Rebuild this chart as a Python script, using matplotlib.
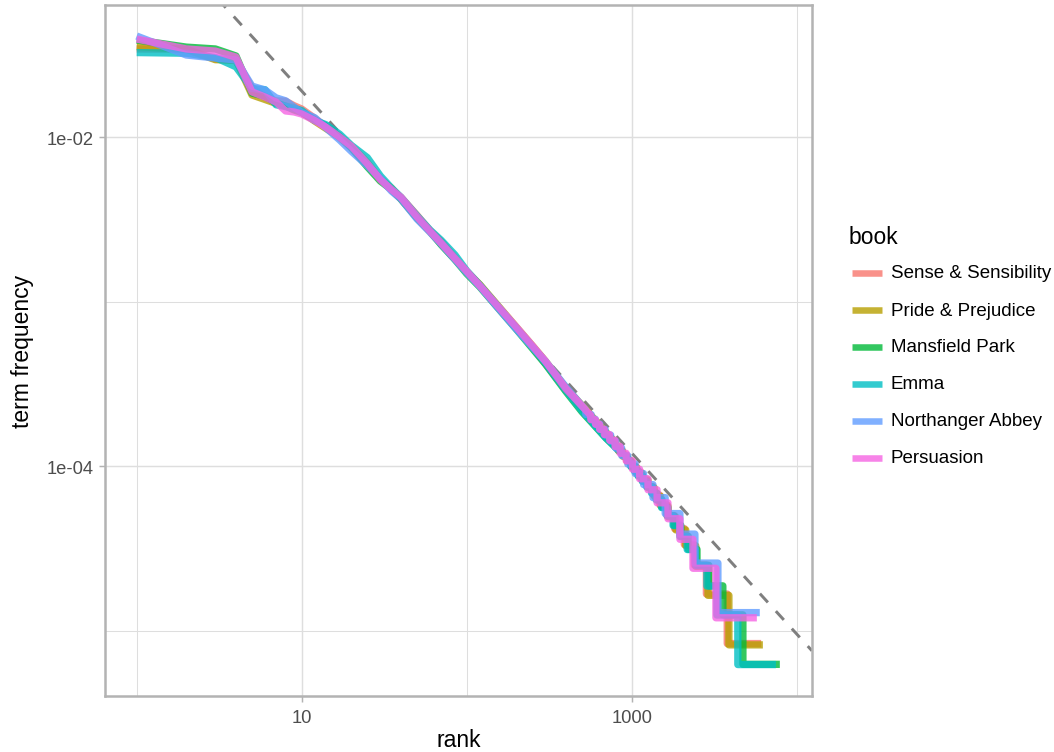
import numpy as np
import matplotlib
matplotlib.use("Agg")
import matplotlib.pyplot as plt
from matplotlib.lines import Line2D
from matplotlib.ticker import FixedLocator, NullFormatter

plt.rcParams['font.family'] = ['Liberation Sans', 'DejaVu Sans']

# ---- data -----------------------------------------------------------------
books = ["Sense & Sensibility", "Pride & Prejudice", "Mansfield Park",
         "Emma", "Northanger Abbey", "Persuasion"]
colors = ["#F8766D", "#B79F00", "#00BA38", "#00BFC4", "#619CFF", "#F564E3"]

# total number of words in each novel
total_words = [119957, 122204, 160460, 160996, 77780, 83658]

# ranks of the common words (shared by every book)
head_rank = [1, 2, 3, 4, 5, 6, 7, 8, 9, 10, 12, 14, 17, 20, 25, 30, 35, 40,
             50, 60, 70, 85, 100, 120, 150, 200, 250, 300, 400]

sense_freq = [0.0343, 0.0342, 0.0298, 0.0291, 0.0200, 0.0174, 0.0166, 0.0165,
              0.0155, 0.0148, 0.0130, 0.0116, 0.0099, 0.0086, 0.0068, 0.0056,
              0.0048, 0.0043, 0.00335, 0.00270, 0.00232, 0.00184, 0.00152,
              0.00126, 0.00096, 0.00069, 0.00053, 0.000420, 0.000290]
pride_freq = [0.0354, 0.0341, 0.0295, 0.0293, 0.0180, 0.0169, 0.0160, 0.0154,
              0.0151, 0.0142, 0.0125, 0.0113, 0.0100, 0.0088, 0.0070, 0.0055,
              0.0049, 0.0042, 0.00325, 0.00266, 0.00224, 0.00181, 0.00152,
              0.00127, 0.00098, 0.00070, 0.00054, 0.000435, 0.000298]
mansfield_freq = [0.0389, 0.0352, 0.0343, 0.0311, 0.0185, 0.0177, 0.0161, 0.0154,
                  0.0146, 0.0141, 0.0127, 0.0117, 0.0101, 0.0086, 0.0066, 0.0054,
                  0.0048, 0.0042, 0.00322, 0.00268, 0.00222, 0.00180, 0.00148,
                  0.00123, 0.00095, 0.00068, 0.00052, 0.000418, 0.000284]
emma_freq = [0.0326, 0.0323, 0.0304, 0.0267, 0.0197, 0.0194, 0.0157, 0.0153,
             0.0149, 0.0145, 0.0126, 0.0119, 0.0104, 0.0089, 0.0075, 0.0058,
             0.0049, 0.0043, 0.00332, 0.00272, 0.00236, 0.00192, 0.00154,
             0.00126, 0.00097, 0.00069, 0.00053, 0.000424, 0.000288]
northanger_freq = [0.0411, 0.0315, 0.0302, 0.0294, 0.0204, 0.0193, 0.0173, 0.0166,
                   0.0152, 0.0141, 0.0131, 0.0114, 0.0096, 0.0082, 0.0067, 0.0056,
                   0.0047, 0.0042, 0.00318, 0.00264, 0.00224, 0.00180, 0.00150,
                   0.00124, 0.00095, 0.00068, 0.00053, 0.000434, 0.000302]
persuasion_freq = [0.0394, 0.0343, 0.0333, 0.0306, 0.0188, 0.0175, 0.0163, 0.0144,
                   0.0142, 0.0138, 0.0126, 0.0115, 0.0100, 0.0088, 0.0069, 0.0055,
                   0.0048, 0.0043, 0.00328, 0.00268, 0.00227, 0.00183, 0.00153,
                   0.00125, 0.00097, 0.00070, 0.00054, 0.000434, 0.000295]

# a few more points per book before the tied counts begin
sense_mid_rank, sense_mid_freq = [500, 783], [0.000225, 0.0001417]
pride_mid_rank, pride_mid_freq = [500, 796], [0.000234, 0.0001391]
mansfield_mid_rank, mansfield_mid_freq = [500, 700, 993], [0.000214, 0.000148, 0.0001059]
emma_mid_rank, emma_mid_freq = [500, 700, 988], [0.000217, 0.000148, 0.0001056]
northanger_mid_rank, northanger_mid_freq = [527], [0.000219]
persuasion_mid_rank, persuasion_mid_freq = [565], [0.000203]

# rare words: word count and the last rank holding that count
tail_count = [16, 15, 14, 13, 12, 11, 10, 9, 8, 7, 6, 5, 4, 3, 2, 1]
sense_tail_end = [825, 875, 930, 990, 1060, 1142, 1241, 1353, 1480, 1635,
                  1821, 2087, 2396, 2840, 3800, 6100]
pride_tail_end = [837, 885, 940, 1002, 1074, 1159, 1260, 1374, 1502, 1661,
                  1853, 2130, 2450, 2905, 3890, 6250]
mansfield_tail_end = [1045, 1099, 1166, 1244, 1333, 1424, 1530, 1661, 1805, 1988,
                      2208, 2492, 2940, 3575, 4730, 7920]
emma_tail_end = [1040, 1095, 1161, 1235, 1321, 1411, 1518, 1645, 1784, 1960,
                 2173, 2440, 2860, 3290, 4405, 7495]
northanger_tail_end = [569, 602, 642, 692, 747, 802, 871, 948, 1052, 1182,
                       1347, 1598, 1963, 2421, 3337, 5985]
persuasion_tail_end = [604, 639, 682, 735, 793, 852, 927, 1012, 1118, 1257,
                       1427, 1661, 1963, 2355, 3245, 5745]

# reference power law: log10(tf) = intercept + slope * log10(rank)
zipf_intercept = -0.62
zipf_slope = -1.1

head_freqs = [sense_freq, pride_freq, mansfield_freq, emma_freq,
              northanger_freq, persuasion_freq]
mid_ranks = [sense_mid_rank, pride_mid_rank, mansfield_mid_rank, emma_mid_rank,
             northanger_mid_rank, persuasion_mid_rank]
mid_freqs = [sense_mid_freq, pride_mid_freq, mansfield_mid_freq, emma_mid_freq,
             northanger_mid_freq, persuasion_mid_freq]
tail_ends = [sense_tail_end, pride_tail_end, mansfield_tail_end, emma_tail_end,
             northanger_tail_end, persuasion_tail_end]


def book_series(i):
    r = list(head_rank) + list(mid_ranks[i])
    f = list(head_freqs[i]) + list(mid_freqs[i])
    prev = r[-1]
    for c, end in zip(tail_count, tail_ends[i]):
        tf = c / total_words[i]
        r += [prev + 1, end]
        f += [tf, tf]
        prev = end
    return np.array(r, float), np.array(f, float)


series = [book_series(i) for i in range(len(books))]

# ---- figure ---------------------------------------------------------------
W, H, DPI = 1054, 753, 150
fig = plt.figure(figsize=(W / DPI, H / DPI), dpi=DPI)
fig.patch.set_facecolor("white")

left, right, top, bottom = 104.5, 812, 5.6, 697
ax = fig.add_axes([left / W, 1 - bottom / H, (right - left) / W, (bottom - top) / H])

for (r, f), col in zip(series, colors):
    ax.plot(r, f, color=col, lw=3.5, alpha=0.8,
            solid_joinstyle="round", solid_capstyle="butt", zorder=3)

ax.set_xscale("log")
ax.set_yscale("log")

all_r = np.concatenate([s[0] for s in series])
all_f = np.concatenate([s[1] for s in series])
lx0, lx1 = np.log10(all_r.min()), np.log10(all_r.max())
ly0, ly1 = np.log10(all_f.min()), np.log10(all_f.max())
px, py = 0.05 * (lx1 - lx0), 0.05 * (ly1 - ly0)
xlim = (10 ** (lx0 - px), 10 ** (lx1 + px))
ylim = (10 ** (ly0 - py), 10 ** (ly1 + py))

xs = np.array(xlim)
ax.plot(xs, 10 ** zipf_intercept * xs ** zipf_slope, color="#7F7F7F",
        lw=1.42, ls=(0, (4, 4)), zorder=2)

ax.set_xlim(*xlim)
ax.set_ylim(*ylim)

ax.xaxis.set_major_locator(FixedLocator([10, 1000]))
ax.xaxis.set_minor_locator(FixedLocator([1, 100, 10000]))
ax.yaxis.set_major_locator(FixedLocator([1e-2, 1e-4]))
ax.yaxis.set_minor_locator(FixedLocator([1e-3, 1e-5]))
ax.set_xticklabels(["10", "1000"])
ax.set_yticklabels(["1e-02", "1e-04"])
ax.xaxis.set_minor_formatter(NullFormatter())
ax.yaxis.set_minor_formatter(NullFormatter())

ax.tick_params(which="major", length=2.75, width=0.71, color="#B3B3B3",
               labelcolor="#4D4D4D", labelsize=8.8)
ax.tick_params(axis="x", which="major", pad=3.4)
ax.tick_params(axis="y", which="major", pad=2.4)
ax.tick_params(which="minor", length=0)

ax.grid(which="major", color="#DEDEDE", lw=0.71)
ax.grid(which="minor", color="#DEDEDE", lw=0.5)
ax.set_axisbelow(True)
for sp in ax.spines.values():
    sp.set_color("#B3B3B3")
    sp.set_linewidth(1.2)

ax.set_xlabel("rank", fontsize=11, color="black", labelpad=1.2)
ax.set_ylabel("term frequency", fontsize=11, color="black", labelpad=6)

# ---- legend ---------------------------------------------------------------
fig.text(849 / W, 1 - 238 / H, "book", fontsize=11, ha="left", va="center")
for i, (name, col) in enumerate(zip(books, colors)):
    yk = 274 + 37 * i
    fig.add_artist(Line2D([852 / W, 882 / W], [1 - yk / H, 1 - yk / H],
                          transform=fig.transFigure, color=col, lw=3.13,
                          alpha=0.8, solid_capstyle="butt"))
    fig.text(891 / W, 1 - yk / H, name, fontsize=9.0, ha="left", va="center")

fig.savefig("out.png", dpi=DPI, facecolor="white")
